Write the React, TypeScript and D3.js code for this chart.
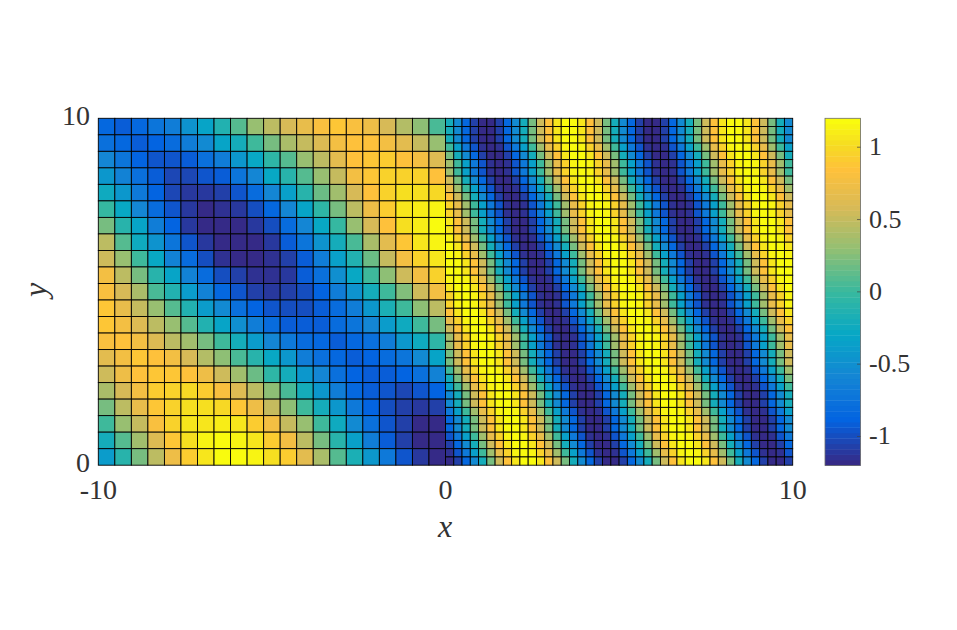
import React from 'react';
import * as d3 from 'd3';

// colour limits and colorbar ticks
const colorLimits = [-1.2, 1.2];
const colorbarTicks = [-1, -0.5, 0, 0.5, 1];
const colorbarLabels = ['-1', '-0.5', '0', '0.5', '1'];
const parulaStops = ['#352a87', '#0363e1', '#1485d4', '#06a7c6', '#38b99e', '#92bf73', '#d9ba56', '#ffc13a', '#f6dc22', '#f9fb0e'];
const parulaPositions = [0, 0.125, 0.25, 0.375, 0.5, 0.625, 0.75, 0.86, 0.93, 1];

const xTicks = [-10, 0, 10];
const xLabels = ['-10', '0', '10'];
const yTicks = [0, 10];
const yLabels = ['0', '10'];

// coarse half of the mesh, x in [-10, 0], top row first
const leftRows = [
  [-.85,-.92,-.85,-.75,-.65,-.47,-.32,-.12,.08,.3,.45,.57,.7,.8,.87,.82,.73,.57,.42,.28,.07],
  [-.78,-.85,-.9,-.87,-.8,-.67,-.55,-.32,-.2,0,.2,.4,.5,.62,.77,.85,.85,.78,.67,.5,.33],
  [-.6,-.75,-.88,-.97,-.95,-.9,-.78,-.65,-.42,-.27,-.05,.08,.3,.47,.64,.83,.88,.9,.85,.77,.6],
  [-.42,-.62,-.78,-.93,-1.03,-1.03,-.97,-.9,-.73,-.6,-.3,-.1,.08,.3,.5,.75,.87,.95,.97,.97,.85],
  [-.25,-.45,-.68,-.87,-1.03,-1.1,-1.12,-1.07,-.95,-.8,-.6,-.35,-.1,.15,.37,.58,.83,.95,1.03,1.03,.98],
  [-.03,-.27,-.58,-.8,-.97,-1.12,-1.18,-1.15,-1.1,-1,-.83,-.6,-.32,-.07,.22,.48,.73,.92,1.05,1.12,1.15],
  [.2,-.08,-.33,-.65,-.88,-1.1,-1.17,-1.2,-1.2,-1.12,-1,-.8,-.57,-.3,-.03,.3,.58,.83,1.02,1.12,1.2],
  [.45,.1,-.25,-.48,-.75,-.97,-1.1,-1.2,-1.2,-1.18,-1.1,-.93,-.73,-.48,-.22,.07,.4,.65,.88,1.05,1.15],
  [.55,.33,.02,-.28,-.63,-.8,-1,-1.13,-1.2,-1.18,-1.15,-1.05,-.9,-.65,-.35,-.12,.18,.5,.75,.95,1.05],
  [.75,.47,.2,-.1,-.33,-.62,-.8,-1,-1.08,-1.13,-1.15,-1.1,-.93,-.78,-.52,-.28,0,.27,.55,.75,.97],
  [.8,.58,.41,.07,-.12,-.41,-.61,-.86,-.94,-1.05,-1.12,-1.08,-.98,-.88,-.67,-.47,-.2,.03,.25,.53,.78],
  [.87,.7,.5,.32,.08,-.13,-.38,-.55,-.78,-.87,-.95,-.98,-1,-.9,-.8,-.65,-.42,-.18,.02,.28,.47],
  [.87,.78,.62,.45,.3,.08,-.12,-.33,-.52,-.65,-.82,-.9,-.93,-.9,-.82,-.75,-.6,-.38,-.25,0,.2],
  [.82,.85,.77,.6,.48,.35,.2,0,-.22,-.38,-.6,-.7,-.82,-.85,-.9,-.85,-.77,-.67,-.45,-.25,-.05],
  [.65,.78,.87,.85,.75,.58,.43,.28,.05,-.1,-.3,-.45,-.67,-.78,-.85,-.9,-.88,-.8,-.72,-.55,-.32],
  [.55,.72,.85,.88,.88,.85,.72,.55,.35,.18,-.04,-.2,-.42,-.6,-.78,-.88,-.92,-.9,-.87,-.77,-.63],
  [.4,.57,.78,.92,.97,.98,.92,.82,.62,.45,.27,.05,-.2,-.43,-.65,-.83,-.92,-.97,-1.03,-.97,-.88],
  [.2,.45,.68,.87,.97,1.02,1.03,.98,.87,.73,.51,.28,.02,-.2,-.45,-.68,-.87,-1,-1.07,-1.1,-1.05],
  [0,.3,.52,.8,.95,1.05,1.08,1.1,1.08,.93,.77,.5,.3,.02,-.25,-.55,-.78,-.95,-1.08,-1.17,-1.18],
  [-.2,.1,.35,.62,.87,1.03,1.13,1.2,1.15,1.05,.92,.75,.45,.2,-.08,-.35,-.65,-.9,-1.05,-1.17,-1.2],
  [-.4,-.1,.2,.47,.73,.93,1.08,1.2,1.2,1.13,1.03,.9,.65,.38,.1,-.17,-.45,-.68,-.95,-1.1,-1.18],
];

// fine half of the mesh, x in [0, 10], top row first
const rightRows = [
  [-.19,-.54,-.85,-1.07,-1.19,-1.19,-1.07,-.85,-.54,-.19,.19,.54,.85,1.07,1.19,1.19,1.07,.85,.54,.19,-.19,-.54,-.85,-1.07,-1.19,-1.19,-1.07,-.85,-.54,-.19,.19,.54,.85,1.07,1.19,1.19,1.07,.85,.54,.19,-.19,-.54],
  [-.19,-.54,-.85,-1.07,-1.19,-1.19,-1.07,-.85,-.54,-.19,.19,.54,.85,1.07,1.19,1.19,1.07,.85,.54,.19,-.19,-.54,-.85,-1.07,-1.19,-1.19,-1.07,-.85,-.54,-.19,.19,.54,.85,1.07,1.19,1.19,1.07,.85,.54,.19,-.19,-.54],
  [-.19,-.54,-.85,-1.07,-1.19,-1.19,-1.07,-.85,-.54,-.19,.19,.54,.85,1.07,1.19,1.19,1.07,.85,.54,.19,-.19,-.54,-.85,-1.07,-1.19,-1.19,-1.07,-.85,-.54,-.19,.19,.54,.85,1.07,1.19,1.19,1.07,.85,.54,.19,-.19,-.54],
  [0,-.37,-.71,-.97,-1.14,-1.2,-1.14,-.97,-.71,-.37,0,.37,.71,.97,1.14,1.2,1.14,.97,.71,.37,0,-.37,-.71,-.97,-1.14,-1.2,-1.14,-.97,-.71,-.37,0,.37,.71,.97,1.14,1.2,1.14,.97,.71,.37,0,-.37],
  [.19,-.19,-.54,-.85,-1.07,-1.19,-1.19,-1.07,-.85,-.54,-.19,.19,.54,.85,1.07,1.19,1.19,1.07,.85,.54,.19,-.19,-.54,-.85,-1.07,-1.19,-1.19,-1.07,-.85,-.54,-.19,.19,.54,.85,1.07,1.19,1.19,1.07,.85,.54,.19,-.19],
  [.37,0,-.37,-.71,-.97,-1.14,-1.2,-1.14,-.97,-.71,-.37,0,.37,.71,.97,1.14,1.2,1.14,.97,.71,.37,0,-.37,-.71,-.97,-1.14,-1.2,-1.14,-.97,-.71,-.37,0,.37,.71,.97,1.14,1.2,1.14,.97,.71,.37,0],
  [.37,0,-.37,-.71,-.97,-1.14,-1.2,-1.14,-.97,-.71,-.37,0,.37,.71,.97,1.14,1.2,1.14,.97,.71,.37,0,-.37,-.71,-.97,-1.14,-1.2,-1.14,-.97,-.71,-.37,0,.37,.71,.97,1.14,1.2,1.14,.97,.71,.37,0],
  [.54,.19,-.19,-.54,-.85,-1.07,-1.19,-1.19,-1.07,-.85,-.54,-.19,.19,.54,.85,1.07,1.19,1.19,1.07,.85,.54,.19,-.19,-.54,-.85,-1.07,-1.19,-1.19,-1.07,-.85,-.54,-.19,.19,.54,.85,1.07,1.19,1.19,1.07,.85,.54,.19],
  [.71,.37,0,-.37,-.71,-.97,-1.14,-1.2,-1.14,-.97,-.71,-.37,0,.37,.71,.97,1.14,1.2,1.14,.97,.71,.37,0,-.37,-.71,-.97,-1.14,-1.2,-1.14,-.97,-.71,-.37,0,.37,.71,.97,1.14,1.2,1.14,.97,.71,.37],
  [.85,.54,.19,-.19,-.54,-.85,-1.07,-1.19,-1.19,-1.07,-.85,-.54,-.19,.19,.54,.85,1.07,1.19,1.19,1.07,.85,.54,.19,-.19,-.54,-.85,-1.07,-1.19,-1.19,-1.07,-.85,-.54,-.19,.19,.54,.85,1.07,1.19,1.19,1.07,.85,.54],
  [.97,.71,.37,0,-.37,-.71,-.97,-1.14,-1.2,-1.14,-.97,-.71,-.37,0,.37,.71,.97,1.14,1.2,1.14,.97,.71,.37,0,-.37,-.71,-.97,-1.14,-1.2,-1.14,-.97,-.71,-.37,0,.37,.71,.97,1.14,1.2,1.14,.97,.71],
  [.97,.71,.37,0,-.37,-.71,-.97,-1.14,-1.2,-1.14,-.97,-.71,-.37,0,.37,.71,.97,1.14,1.2,1.14,.97,.71,.37,0,-.37,-.71,-.97,-1.14,-1.2,-1.14,-.97,-.71,-.37,0,.37,.71,.97,1.14,1.2,1.14,.97,.71],
  [1.07,.85,.54,.19,-.19,-.54,-.85,-1.07,-1.19,-1.19,-1.07,-.85,-.54,-.19,.19,.54,.85,1.07,1.19,1.19,1.07,.85,.54,.19,-.19,-.54,-.85,-1.07,-1.19,-1.19,-1.07,-.85,-.54,-.19,.19,.54,.85,1.07,1.19,1.19,1.07,.85],
  [1.07,.85,.54,.19,-.19,-.54,-.85,-1.07,-1.19,-1.19,-1.07,-.85,-.54,-.19,.19,.54,.85,1.07,1.19,1.19,1.07,.85,.54,.19,-.19,-.54,-.85,-1.07,-1.19,-1.19,-1.07,-.85,-.54,-.19,.19,.54,.85,1.07,1.19,1.19,1.07,.85],
  [1.14,.97,.71,.37,0,-.37,-.71,-.97,-1.14,-1.2,-1.14,-.97,-.71,-.37,0,.37,.71,.97,1.14,1.2,1.14,.97,.71,.37,0,-.37,-.71,-.97,-1.14,-1.2,-1.14,-.97,-.71,-.37,0,.37,.71,.97,1.14,1.2,1.14,.97],
  [1.19,1.07,.85,.54,.19,-.19,-.54,-.85,-1.07,-1.19,-1.19,-1.07,-.85,-.54,-.19,.19,.54,.85,1.07,1.19,1.19,1.07,.85,.54,.19,-.19,-.54,-.85,-1.07,-1.19,-1.19,-1.07,-.85,-.54,-.19,.19,.54,.85,1.07,1.19,1.19,1.07],
  [1.2,1.14,.97,.71,.37,0,-.37,-.71,-.97,-1.14,-1.2,-1.14,-.97,-.71,-.37,0,.37,.71,.97,1.14,1.2,1.14,.97,.71,.37,0,-.37,-.71,-.97,-1.14,-1.2,-1.14,-.97,-.71,-.37,0,.37,.71,.97,1.14,1.2,1.14],
  [1.19,1.19,1.07,.85,.54,.19,-.19,-.54,-.85,-1.07,-1.19,-1.19,-1.07,-.85,-.54,-.19,.19,.54,.85,1.07,1.19,1.19,1.07,.85,.54,.19,-.19,-.54,-.85,-1.07,-1.19,-1.19,-1.07,-.85,-.54,-.19,.19,.54,.85,1.07,1.19,1.19],
  [1.19,1.19,1.07,.85,.54,.19,-.19,-.54,-.85,-1.07,-1.19,-1.19,-1.07,-.85,-.54,-.19,.19,.54,.85,1.07,1.19,1.19,1.07,.85,.54,.19,-.19,-.54,-.85,-1.07,-1.19,-1.19,-1.07,-.85,-.54,-.19,.19,.54,.85,1.07,1.19,1.19],
  [1.14,1.2,1.14,.97,.71,.37,0,-.37,-.71,-.97,-1.14,-1.2,-1.14,-.97,-.71,-.37,0,.37,.71,.97,1.14,1.2,1.14,.97,.71,.37,0,-.37,-.71,-.97,-1.14,-1.2,-1.14,-.97,-.71,-.37,0,.37,.71,.97,1.14,1.2],
  [1.07,1.19,1.19,1.07,.85,.54,.19,-.19,-.54,-.85,-1.07,-1.19,-1.19,-1.07,-.85,-.54,-.19,.19,.54,.85,1.07,1.19,1.19,1.07,.85,.54,.19,-.19,-.54,-.85,-1.07,-1.19,-1.19,-1.07,-.85,-.54,-.19,.19,.54,.85,1.07,1.19],
  [.97,1.14,1.2,1.14,.97,.71,.37,0,-.37,-.71,-.97,-1.14,-1.2,-1.14,-.97,-.71,-.37,0,.37,.71,.97,1.14,1.2,1.14,.97,.71,.37,0,-.37,-.71,-.97,-1.14,-1.2,-1.14,-.97,-.71,-.37,0,.37,.71,.97,1.14],
  [.97,1.14,1.2,1.14,.97,.71,.37,0,-.37,-.71,-.97,-1.14,-1.2,-1.14,-.97,-.71,-.37,0,.37,.71,.97,1.14,1.2,1.14,.97,.71,.37,0,-.37,-.71,-.97,-1.14,-1.2,-1.14,-.97,-.71,-.37,0,.37,.71,.97,1.14],
  [.85,1.07,1.19,1.19,1.07,.85,.54,.19,-.19,-.54,-.85,-1.07,-1.19,-1.19,-1.07,-.85,-.54,-.19,.19,.54,.85,1.07,1.19,1.19,1.07,.85,.54,.19,-.19,-.54,-.85,-1.07,-1.19,-1.19,-1.07,-.85,-.54,-.19,.19,.54,.85,1.07],
  [.71,.97,1.14,1.2,1.14,.97,.71,.37,0,-.37,-.71,-.97,-1.14,-1.2,-1.14,-.97,-.71,-.37,0,.37,.71,.97,1.14,1.2,1.14,.97,.71,.37,0,-.37,-.71,-.97,-1.14,-1.2,-1.14,-.97,-.71,-.37,0,.37,.71,.97],
  [.54,.85,1.07,1.19,1.19,1.07,.85,.54,.19,-.19,-.54,-.85,-1.07,-1.19,-1.19,-1.07,-.85,-.54,-.19,.19,.54,.85,1.07,1.19,1.19,1.07,.85,.54,.19,-.19,-.54,-.85,-1.07,-1.19,-1.19,-1.07,-.85,-.54,-.19,.19,.54,.85],
  [.37,.71,.97,1.14,1.2,1.14,.97,.71,.37,0,-.37,-.71,-.97,-1.14,-1.2,-1.14,-.97,-.71,-.37,0,.37,.71,.97,1.14,1.2,1.14,.97,.71,.37,0,-.37,-.71,-.97,-1.14,-1.2,-1.14,-.97,-.71,-.37,0,.37,.71],
  [.37,.71,.97,1.14,1.2,1.14,.97,.71,.37,0,-.37,-.71,-.97,-1.14,-1.2,-1.14,-.97,-.71,-.37,0,.37,.71,.97,1.14,1.2,1.14,.97,.71,.37,0,-.37,-.71,-.97,-1.14,-1.2,-1.14,-.97,-.71,-.37,0,.37,.71],
  [.19,.54,.85,1.07,1.19,1.19,1.07,.85,.54,.19,-.19,-.54,-.85,-1.07,-1.19,-1.19,-1.07,-.85,-.54,-.19,.19,.54,.85,1.07,1.19,1.19,1.07,.85,.54,.19,-.19,-.54,-.85,-1.07,-1.19,-1.19,-1.07,-.85,-.54,-.19,.19,.54],
  [.19,.54,.85,1.07,1.19,1.19,1.07,.85,.54,.19,-.19,-.54,-.85,-1.07,-1.19,-1.19,-1.07,-.85,-.54,-.19,.19,.54,.85,1.07,1.19,1.19,1.07,.85,.54,.19,-.19,-.54,-.85,-1.07,-1.19,-1.19,-1.07,-.85,-.54,-.19,.19,.54],
  [0,.37,.71,.97,1.14,1.2,1.14,.97,.71,.37,0,-.37,-.71,-.97,-1.14,-1.2,-1.14,-.97,-.71,-.37,0,.37,.71,.97,1.14,1.2,1.14,.97,.71,.37,0,-.37,-.71,-.97,-1.14,-1.2,-1.14,-.97,-.71,-.37,0,.37],
  [-.19,.19,.54,.85,1.07,1.19,1.19,1.07,.85,.54,.19,-.19,-.54,-.85,-1.07,-1.19,-1.19,-1.07,-.85,-.54,-.19,.19,.54,.85,1.07,1.19,1.19,1.07,.85,.54,.19,-.19,-.54,-.85,-1.07,-1.19,-1.19,-1.07,-.85,-.54,-.19,.19],
  [-.37,0,.37,.71,.97,1.14,1.2,1.14,.97,.71,.37,0,-.37,-.71,-.97,-1.14,-1.2,-1.14,-.97,-.71,-.37,0,.37,.71,.97,1.14,1.2,1.14,.97,.71,.37,0,-.37,-.71,-.97,-1.14,-1.2,-1.14,-.97,-.71,-.37,0],
  [-.54,-.19,.19,.54,.85,1.07,1.19,1.19,1.07,.85,.54,.19,-.19,-.54,-.85,-1.07,-1.19,-1.19,-1.07,-.85,-.54,-.19,.19,.54,.85,1.07,1.19,1.19,1.07,.85,.54,.19,-.19,-.54,-.85,-1.07,-1.19,-1.19,-1.07,-.85,-.54,-.19],
  [-.54,-.19,.19,.54,.85,1.07,1.19,1.19,1.07,.85,.54,.19,-.19,-.54,-.85,-1.07,-1.19,-1.19,-1.07,-.85,-.54,-.19,.19,.54,.85,1.07,1.19,1.19,1.07,.85,.54,.19,-.19,-.54,-.85,-1.07,-1.19,-1.19,-1.07,-.85,-.54,-.19],
  [-.71,-.37,0,.37,.71,.97,1.14,1.2,1.14,.97,.71,.37,0,-.37,-.71,-.97,-1.14,-1.2,-1.14,-.97,-.71,-.37,0,.37,.71,.97,1.14,1.2,1.14,.97,.71,.37,0,-.37,-.71,-.97,-1.14,-1.2,-1.14,-.97,-.71,-.37],
  [-.85,-.54,-.19,.19,.54,.85,1.07,1.19,1.19,1.07,.85,.54,.19,-.19,-.54,-.85,-1.07,-1.19,-1.19,-1.07,-.85,-.54,-.19,.19,.54,.85,1.07,1.19,1.19,1.07,.85,.54,.19,-.19,-.54,-.85,-1.07,-1.19,-1.19,-1.07,-.85,-.54],
  [-.85,-.54,-.19,.19,.54,.85,1.07,1.19,1.19,1.07,.85,.54,.19,-.19,-.54,-.85,-1.07,-1.19,-1.19,-1.07,-.85,-.54,-.19,.19,.54,.85,1.07,1.19,1.19,1.07,.85,.54,.19,-.19,-.54,-.85,-1.07,-1.19,-1.19,-1.07,-.85,-.54],
  [-.97,-.71,-.37,0,.37,.71,.97,1.14,1.2,1.14,.97,.71,.37,0,-.37,-.71,-.97,-1.14,-1.2,-1.14,-.97,-.71,-.37,0,.37,.71,.97,1.14,1.2,1.14,.97,.71,.37,0,-.37,-.71,-.97,-1.14,-1.2,-1.14,-.97,-.71],
  [-1.07,-.85,-.54,-.19,.19,.54,.85,1.07,1.19,1.19,1.07,.85,.54,.19,-.19,-.54,-.85,-1.07,-1.19,-1.19,-1.07,-.85,-.54,-.19,.19,.54,.85,1.07,1.19,1.19,1.07,.85,.54,.19,-.19,-.54,-.85,-1.07,-1.19,-1.19,-1.07,-.85],
  [-1.14,-.97,-.71,-.37,0,.37,.71,.97,1.14,1.2,1.14,.97,.71,.37,0,-.37,-.71,-.97,-1.14,-1.2,-1.14,-.97,-.71,-.37,0,.37,.71,.97,1.14,1.2,1.14,.97,.71,.37,0,-.37,-.71,-.97,-1.14,-1.2,-1.14,-.97],
  [-1.19,-1.07,-.85,-.54,-.19,.19,.54,.85,1.07,1.19,1.19,1.07,.85,.54,.19,-.19,-.54,-.85,-1.07,-1.19,-1.19,-1.07,-.85,-.54,-.19,.19,.54,.85,1.07,1.19,1.19,1.07,.85,.54,.19,-.19,-.54,-.85,-1.07,-1.19,-1.19,-1.07],
];

const serif = '"Liberation Serif", "DejaVu Serif", serif';
const levels = 64;

const x = d3.scaleLinear().domain([-10, 10]).range([98.3, 792.7]);
const y = d3.scaleLinear().domain([0, 10]).range([465.2, 118.3]);
const barY = d3.scaleLinear().domain(colorLimits).range([465.4, 118.3]);

const toUnit = d3.scaleLinear().domain(colorLimits).range([0, 1]).clamp(true);
const parula = d3.scaleLinear<string>().domain(parulaPositions).range(parulaStops).interpolate(d3.interpolateRgb);
// MATLAB maps values onto 64 discrete colours
const colorOf = (v: number) => {
  const level = Math.min(levels - 1, Math.floor(toUnit(v) * levels));
  return parula(level / (levels - 1));
};

const Mesh = ({ rows, x0, x1 }: { rows: number[][]; x0: number; x1: number }) => {
  const n = rows.length;
  const col = d3.scaleLinear().domain([0, rows[0].length]).range([x(x0), x(x1)]);
  const row = d3.scaleLinear().domain([0, n]).range([y(10), y(0)]);
  return (
    <g stroke="#000" strokeWidth={0.9}>
      {rows.map((r, i) =>
        r.map((v, j) => (
          <rect key={`${i}-${j}`} x={col(j)} y={row(i)} width={col(j + 1) - col(j)} height={row(i + 1) - row(i)} fill={colorOf(v)} />
        ))
      )}
    </g>
  );
};

export default function App() {
  const textStyle = { fontFamily: serif, fontSize: 28, fill: '#333' };
  const barStyle = { ...textStyle, fontSize: 26 };
  const barLevels = d3.range(levels);
  const levelValue = d3.scaleLinear().domain([0, levels]).range(colorLimits);
  return (
    <svg width={957} height={630} style={{ position: 'absolute', left: 0, top: 0, background: '#fff' }}>
      <Mesh rows={leftRows} x0={-10} x1={0} />
      <Mesh rows={rightRows} x0={0} x1={10} />

      {xTicks.map((t, i) => (
        <text key={t} x={x(t)} y={499} textAnchor="middle" style={textStyle}>{xLabels[i]}</text>
      ))}
      {yTicks.map((t, i) => (
        <text key={t} x={90} y={y(t) + 7} textAnchor="end" style={textStyle}>{yLabels[i]}</text>
      ))}
      <text x={445} y={537} textAnchor="middle" style={{ ...textStyle, fontSize: 32, fontStyle: 'italic' }}>x</text>
      <text transform="translate(46,290) rotate(-90)" textAnchor="middle" style={{ ...textStyle, fontSize: 32, fontStyle: 'italic' }}>y</text>

      {barLevels.map((l) => (
        <rect key={l} x={825} y={barY(levelValue(l + 1))} width={35.6} height={barY(levelValue(l)) - barY(levelValue(l + 1)) + 0.4} fill={parula(l / (levels - 1))} />
      ))}
      <rect x={825} y={118.3} width={35.6} height={347.1} fill="none" stroke="#6b6b6b" strokeWidth={0.8} />
      {colorbarTicks.map((t, i) => (
        <g key={t}>
          <line x1={857} x2={860.6} y1={barY(t)} y2={barY(t)} stroke="#444" strokeWidth={0.7} />
          <text x={869} y={barY(t) + 8} style={barStyle}>{colorbarLabels[i]}</text>
        </g>
      ))}
    </svg>
  );
}
